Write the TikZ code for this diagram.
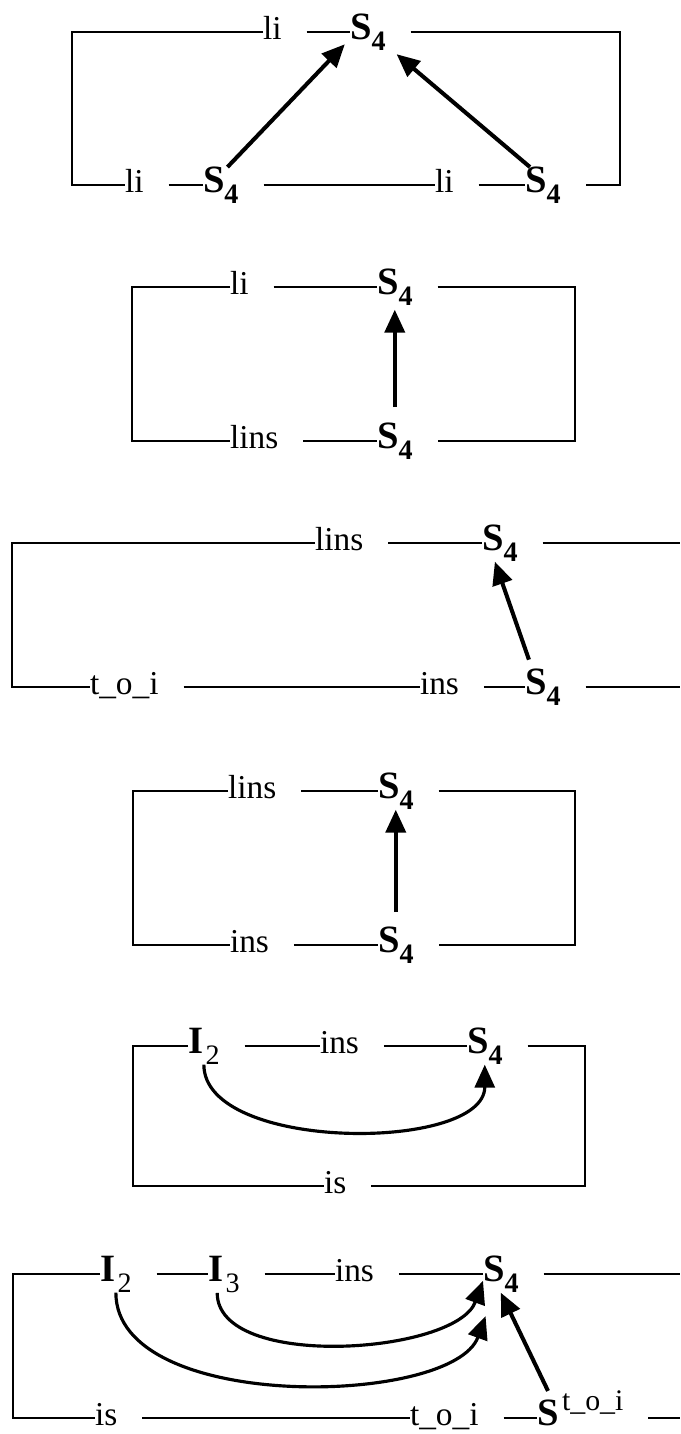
\documentclass[tikz,border=0pt]{standalone}
\usepackage{fontspec}
\setmainfont{Liberation Serif}
\usepackage{tikz}
\usetikzlibrary{arrows.meta}
\newcommand{\gapw}{0.5cm}
\newcommand{\bsym}[2]{{\fontsize{22}{22}\selectfont\bfseries #1}\raisebox{-0.22cm}{\fontsize{16}{16}\selectfont\bfseries #2}}
\newcommand{\isym}[1]{{\fontsize{22}{22}\selectfont\bfseries I}\kern1.5pt\raisebox{-0.22cm}{\fontsize{16}{16}\selectfont #1}}
\newcommand{\stoi}{{\fontsize{22}{22}\selectfont\bfseries S}\kern2pt\raisebox{0.3cm}{\fontsize{17}{17}\selectfont t\_o\_i}}
\AtBeginDocument{\fontsize{19}{22}\selectfont}
\tikzset{
  lbl/.style={anchor=mid west, inner sep=0pt, outer sep=0pt},
  rim/.style={line width=1.6pt},
  arr/.style={line width=2.3pt, -{Triangle[length=0.46cm,width=0.4cm]}},
  curvearr/.style={line width=1.8pt, -{Triangle[length=0.46cm,width=0.4cm]}}
}

\begin{document}
\begin{tikzpicture}[x=0.02cm, y=-0.02cm]
  \useasboundingbox (0,0) rectangle (680,1434);

  % first frame
  \coordinate (p1nw) at (72,32);
  \coordinate (p1ne) at (620,32);
  \node[lbl] (p1a) at (263,32) {li};
  \node[lbl] (p1b) at (350,32) {\bsym{S}{4}};
  \node[lbl] (p1c) at (125,185) {li};
  \node[lbl] (p1d) at (203,185) {\bsym{S}{4}};
  \node[lbl] (p1e) at (435,185) {li};
  \node[lbl] (p1f) at (525,185) {\bsym{S}{4}};
  \draw[rim] (p1a.mid west) -- (p1nw) |- (p1c.mid west);
  \draw[rim] ([xshift=\gapw]p1a.mid east) -- (p1b.mid west);
  \draw[rim] ([xshift=\gapw]p1b.mid east) -- (p1ne) |- ([xshift=\gapw]p1f.mid east);
  \draw[rim] ([xshift=\gapw]p1c.mid east) -- (p1d.mid west);
  \draw[rim] ([xshift=\gapw]p1d.mid east) -- (p1e.mid west);
  \draw[rim] ([xshift=\gapw]p1e.mid east) -- (p1f.mid west);
  \draw[arr, shorten >=0.15cm] (p1d.70) -- (p1b.200);
  \draw[arr, shorten >=0.29cm] (p1f.125) -- (p1b.-35);

  % second frame
  \coordinate (p2nw) at (132,287);
  \coordinate (p2ne) at (575,287);
  \node[lbl] (p2a) at (230,287) {li};
  \node[lbl] (p2b) at (377,287) {\bsym{S}{4}};
  \node[lbl] (p2c) at (230,441) {lins};
  \node[lbl] (p2d) at (377,441) {\bsym{S}{4}};
  \draw[rim] (p2a.mid west) -- (p2nw) |- (p2c.mid west);
  \draw[rim] ([xshift=\gapw]p2a.mid east) -- (p2b.mid west);
  \draw[rim] ([xshift=\gapw]p2b.mid east) -- (p2ne) |- ([xshift=\gapw]p2d.mid east);
  \draw[rim] ([xshift=\gapw]p2c.mid east) -- (p2d.mid west);
  \draw[arr, shorten <=0.32cm, shorten >=0.08cm] (p2d.north) -- (p2b.south);

  % third frame, open on the right
  \coordinate (p3nw) at (12,543);
  \coordinate (p3ne) at (680,543);
  \coordinate (p3se) at (680,687);
  \node[lbl] (p3a) at (315,543) {lins};
  \node[lbl] (p3b) at (482,543) {\bsym{S}{4}};
  \node[lbl] (p3c) at (90,687) {t\_o\_i};
  \node[lbl] (p3d) at (420,687) {ins};
  \node[lbl] (p3e) at (525,687) {\bsym{S}{4}};
  \draw[rim] (p3a.mid west) -- (p3nw) |- (p3c.mid west);
  \draw[rim] ([xshift=\gapw]p3a.mid east) -- (p3b.mid west);
  \draw[rim] ([xshift=\gapw]p3b.mid east) -- (p3ne);
  \draw[rim] ([xshift=\gapw]p3c.mid east) -- (p3d.mid west);
  \draw[rim] ([xshift=\gapw]p3d.mid east) -- (p3e.mid west);
  \draw[rim] ([xshift=\gapw]p3e.mid east) -- (p3se);
  \draw[arr, shorten <=0.2cm] (p3e.120) -- (p3b.255);

  % fourth frame
  \coordinate (p4nw) at (133,791);
  \coordinate (p4ne) at (575,791);
  \node[lbl] (p4a) at (228,791) {lins};
  \node[lbl] (p4b) at (378,791) {\bsym{S}{4}};
  \node[lbl] (p4c) at (230,945) {ins};
  \node[lbl] (p4d) at (378,945) {\bsym{S}{4}};
  \draw[rim] (p4a.mid west) -- (p4nw) |- (p4c.mid west);
  \draw[rim] ([xshift=\gapw]p4a.mid east) -- (p4b.mid west);
  \draw[rim] ([xshift=\gapw]p4b.mid east) -- (p4ne) |- ([xshift=\gapw]p4d.mid east);
  \draw[rim] ([xshift=\gapw]p4c.mid east) -- (p4d.mid west);
  \draw[arr, shorten <=0.3cm] (p4d.north) -- (p4b.south);

  % fifth frame
  \coordinate (p5nw) at (133,1046);
  \coordinate (p5ne) at (585,1046);
  \node[lbl] (p5a) at (188,1046) {\isym{2}};
  \node[lbl] (p5b) at (320,1046) {ins};
  \node[lbl] (p5c) at (467,1046) {\bsym{S}{4}};
  \node[lbl] (p5d) at (324,1186) {is};
  \draw[rim] (p5a.mid west) -- (p5nw) |- (p5d.mid west);
  \draw[rim] ([xshift=\gapw]p5a.mid east) -- (p5b.mid west);
  \draw[rim] ([xshift=\gapw]p5b.mid east) -- (p5c.mid west);
  \draw[rim] ([xshift=\gapw]p5c.mid east) -- (p5ne) |- ([xshift=\gapw]p5d.mid east);
  \draw[curvearr] (p5a.south) to[out=-90, in=-90, looseness=0.8] (p5c.south);

  % sixth frame, open on the right
  \coordinate (p6nw) at (13,1274);
  \coordinate (p6ne) at (680,1274);
  \coordinate (p6se) at (680,1418);
  \node[lbl] (p6a) at (100,1274) {\isym{2}};
  \node[lbl] (p6b) at (208,1274) {\isym{3}};
  \node[lbl] (p6c) at (335,1274) {ins};
  \node[lbl] (p6d) at (483,1274) {\bsym{S}{4}};
  \node[lbl] (p6e) at (95,1418) {is};
  \node[lbl] (p6f) at (410,1418) {t\_o\_i};
  \node[lbl] (p6g) at (537,1418) {\stoi};
  \draw[rim] (p6a.mid west) -- (p6nw) |- (p6e.mid west);
  \draw[rim] ([xshift=\gapw]p6a.mid east) -- (p6b.mid west);
  \draw[rim] ([xshift=\gapw]p6b.mid east) -- (p6c.mid west);
  \draw[rim] ([xshift=\gapw]p6c.mid east) -- (p6d.mid west);
  \draw[rim] ([xshift=\gapw]p6d.mid east) -- (p6ne);
  \draw[rim] ([xshift=\gapw]p6e.mid east) -- (p6f.mid west);
  \draw[rim] ([xshift=\gapw]p6f.mid east) -- (p6g.mid west);
  \draw[rim] ([xshift=\gapw]p6g.mid east) -- (p6se);
  \draw[curvearr, shorten >=0.5cm] (p6a.south) to[out=-90, in=-110, looseness=0.82] (p6d.-110);
  \draw[curvearr] (p6b.-110) to[out=-90, in=-110, looseness=0.75] (p6d.200);
  \draw[arr] ([xshift=0.22cm]p6g.north west) -- (p6d.south);

\end{tikzpicture}
\end{document}
